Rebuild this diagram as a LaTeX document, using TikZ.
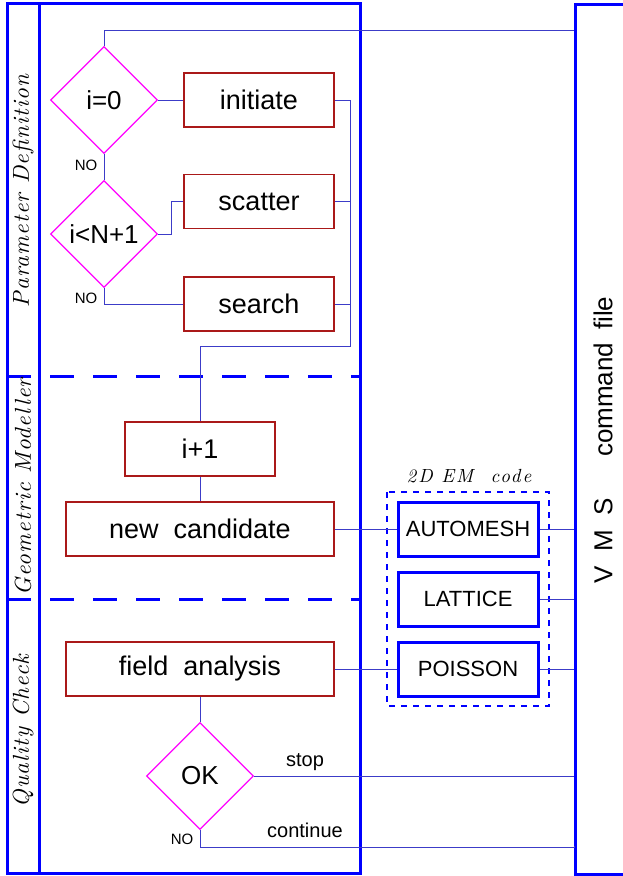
\documentclass[tikz,border=0pt]{standalone}
\usepackage{fontspec}
\newfontfamily\cadfont{Liberation Sans}
\newfontfamily\lanefont[LetterSpace=5]{lmroman10-italic.otf}
\newfontfamily\groupfont[LetterSpace=10]{lmroman10-italic.otf}
\usetikzlibrary{shapes.geometric}
\definecolor{frameblue}{RGB}{0,0,255}
\definecolor{boxred}{RGB}{170,25,25}
\definecolor{linkblue}{RGB}{60,60,200}
\definecolor{testmag}{RGB}{255,0,255}
\tikzset{
  procbox/.style={draw=boxred,line width=1.5pt,minimum width=150pt,minimum height=54pt,inner sep=0pt,
    font=\cadfont\fontsize{27}{30}\selectfont},
  widebox/.style={procbox,minimum width=268pt},
  test/.style={diamond,draw=testmag,line width=1.3pt,minimum width=107pt,minimum height=107pt,inner sep=0pt,
    font=\cadfont\fontsize{26}{30}\selectfont},
  codebox/.style={draw=frameblue,line width=3pt,minimum width=140pt,minimum height=54pt,inner sep=0pt,
    font=\cadfont\fontsize{22}{26}\selectfont},
  frame/.style={draw=frameblue,line width=3pt},
  link/.style={draw=linkblue,line width=1pt},
  lane/.style={rotate=90,font=\lanefont\fontsize{23}{26}\selectfont},
  small/.style={font=\cadfont\fontsize{15}{18}\selectfont},
  tag/.style={font=\cadfont\fontsize{20}{24}\selectfont}
}
\begin{document}
\begin{tikzpicture}[x=1pt,y=-1pt]
\useasboundingbox (0,0) rectangle (623,876);

\draw[frame] (7,3) rectangle (360,873);
\draw[frame] (39,3) -- (39,873);
\draw[frame,dash pattern=on 24pt off 19pt] (7,376) -- (360,376);
\draw[frame,dash pattern=on 24pt off 19pt] (7,599) -- (360,599);

\node[lane] (pdef) at (23,191) {Parameter~Definition};
\node[lane] (gmod) at (23,487) {Geometric~Modeller};
\node[lane] (qchk) at (23,731) {Quality~Check};

\node[frame,minimum width=100pt,minimum height=870pt,anchor=north west] (vms) at (574,3) {};
\node[rotate=90,font=\cadfont\fontsize{26}{30}\selectfont] (vmstxt) at (603,440)
  {V\hspace{0.55em}M\hspace{0.55em}S\hspace{1.6em}command\hspace{0.5em}file};

\node[test] (d0) at (104,100) {i=0};
\node[test] (d1) at (104,234) {i<N+1};
\node[procbox] (init) at (259,100) {initiate};
\node[procbox] (scat) at (259,201.5) {scatter};
\node[procbox] (srch) at (259,304) {search};
\node[procbox] (inc) at (200,449) {i+1};
\node[widebox] (cand) at (200,529) {new~~candidate};
\node[widebox] (fa) at (200,669) {field~~analysis};
\node[test] (ok) at (200,776) {OK};

\node[codebox] (am) at (468,529) {AUTOMESH};
\node[codebox] (lat) at (468,599) {LATTICE};
\node[codebox] (pois) at (468,669) {POISSON};
\draw[frameblue,line width=1.3pt,dash pattern=on 6pt off 6pt] (387,492) rectangle (549,706);
\node[font=\groupfont\fontsize{19}{22}\selectfont] (emcode) at (469,476) {2D~EM~~code};

\node[small] (no1) at (86,165) {NO};
\node[small] (no2) at (86,298) {NO};
\node[small] (no3) at (182,839) {NO};
\node[tag] (stop) at (305,762) {stop};
\node[tag] (cont) at (305,830) {continue};

\coordinate (top) at (104,30);
\coordinate (bus) at (350,346);
\draw[link] (d0.north) |- (top -| vms.west);
\draw[link] (d0) -- (init);
\draw[link] (d0) -- (d1);
\draw[link] (d1.east) -- ++(13,0) |- (scat.west);
\draw[link] (d1.south) |- (srch.west);
\draw[link] (init.east) -| (bus) -| (inc.north);
\draw[link] (scat.east) -- (scat.east -| bus);
\draw[link] (srch.east) -- (srch.east -| bus);
\draw[link] (inc) -- (cand);
\draw[link] (cand) -- (am);
\draw[link] (am.east) -- (am.east -| vms.west);
\draw[link] (lat.east) -- (lat.east -| vms.west);
\draw[link] (fa) -- (pois);
\draw[link] (pois.east) -- (pois.east -| vms.west);
\draw[link] (fa) -- (ok);
\draw[link] (ok.east) -- (ok.east -| vms.west);
\draw[link] (ok.south) -- ++(0,17) -| (vms.west |- 0,846);
\end{tikzpicture}
\end{document}
